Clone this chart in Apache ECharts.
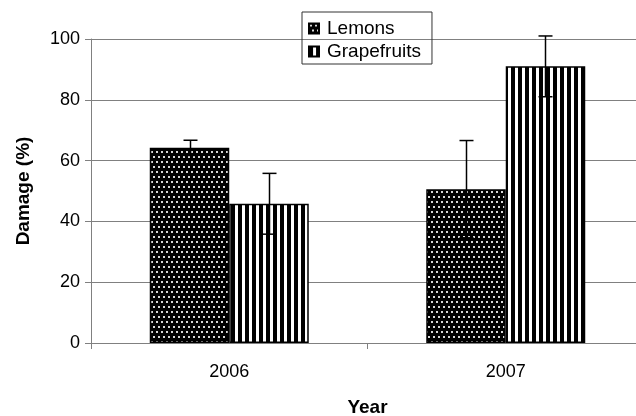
<!DOCTYPE html>
<html>
<head>
<meta charset="utf-8">
<script src="https://cdn.jsdelivr.net/npm/echarts@6/dist/echarts.min.js"></script>
<style>
  html, body { margin: 0; padding: 0; background: #fff; }
  #chart { width: 636px; height: 416px; }
</style>
</head>
<body>
<div id="chart"></div>
<script>
// data
var years = ['2006', '2007']
var lemons = [64.2, 50.6]
var lemonsErr = [2.5, 16]
var grapefruits = [45.8, 91]
var grapefruitsErr = [10, 10]
var yTicks = [0, 20, 40, 60, 80, 100]

// fill patterns, drawn on small canvases
function dotPattern() {
    var c = document.createElement('canvas')
    c.width = 10
    c.height = 10
    var ctx = c.getContext('2d')
    ctx.fillStyle = '#000'
    ctx.fillRect(0, 0, 10, 10)
    ctx.fillStyle = '#d8d8d8'
    ctx.fillRect(1, 1, 2, 2)
    ctx.fillRect(6, 1, 2, 2)
    ctx.fillRect(3, 6, 2, 2)
    ctx.fillRect(8, 6, 2, 2)
    return c
}

function stripePattern() {
    var c = document.createElement('canvas')
    c.width = 7
    c.height = 4
    var ctx = c.getContext('2d')
    ctx.fillStyle = '#fff'
    ctx.fillRect(0, 0, 7, 4)
    ctx.fillStyle = '#000'
    ctx.fillRect(0, 0, 4, 4)
    return c
}

var lemonFill = {image: dotPattern(), repeat: 'repeat'}
var grapeFill = {image: stripePattern(), repeat: 'repeat'}

var BAR_GAP = '42.5%'
var BAR_SHARE = 0.2875 // each bar's share of the category band

function errorSeries(values, errs, side) {
    return {
        type: 'custom',
        name: side < 0 ? 'lemonErr' : 'grapeErr',
        z: 10,
        silent: true,
        data: values.map(function (v, i) { return [i, v - errs[i], v + errs[i]] }),
        renderItem: function (params, api) {
            var band = api.size([1, 0])[0]
            var dx = side * band * BAR_SHARE / 2
            var lo = api.coord([api.value(0), api.value(1)])
            var hi = api.coord([api.value(0), api.value(2)])
            var x = Math.round(lo[0] + dx) + 0.5
            var half = 7
            var style = {stroke: '#000', lineWidth: 1.5}
            return {
                type: 'group',
                children: [
                    {type: 'line', shape: {x1: x, y1: lo[1], x2: x, y2: hi[1]}, style: style},
                    {type: 'line', shape: {x1: x - half, y1: hi[1], x2: x + half, y2: hi[1]}, style: style},
                    {type: 'line', shape: {x1: x - half, y1: lo[1], x2: x + half, y2: lo[1]}, style: style}
                ]
            }
        }
    }
}

var myChart = echarts.init(document.getElementById('chart'))

myChart.setOption({
    animation: false,
    textStyle: {fontFamily: 'Liberation Sans, Arial, sans-serif', color: '#000'},
    // plot runs a little past the right edge of the picture
    grid: {left: 91, right: -8, top: 39, bottom: 73, containLabel: false, outerBoundsMode: 'none'},
    legend: {
        orient: 'vertical',
        left: 302,
        top: 12,
        padding: [7, 11, 3, 6],
        itemGap: 4,
        itemWidth: 10,
        itemHeight: 10,
        borderColor: '#333',
        borderWidth: 1,
        borderRadius: 0,
        icon: 'rect',
        data: ['Lemons', 'Grapefruits'],
        textStyle: {fontSize: 19, color: '#000', padding: [0, 0, 0, 3]}
    },
    xAxis: {
        type: 'category',
        data: years,
        name: 'Year',
        nameLocation: 'middle',
        nameGap: 55,
        nameTextStyle: {fontSize: 19, fontWeight: 'bold', color: '#000'},
        axisLine: {lineStyle: {color: '#808080', width: 1}},
        axisTick: {show: true, length: 6, inside: false, lineStyle: {color: '#808080'}},
        axisLabel: {fontSize: 18, color: '#000', margin: 20},
        splitLine: {show: false}
    },
    yAxis: {
        type: 'value',
        min: 0,
        max: 100,
        interval: 20,
        name: 'Damage (%)',
        nameLocation: 'middle',
        nameGap: 58,
        nameRotate: 90,
        nameTextStyle: {fontSize: 19, fontWeight: 'bold', color: '#000'},
        axisLine: {show: true, lineStyle: {color: '#808080', width: 1}},
        axisTick: {show: true, length: 6, lineStyle: {color: '#808080'}},
        axisLabel: {
            fontSize: 18,
            color: '#000',
            margin: 11,
            formatter: function (v) { return yTicks.indexOf(v) >= 0 ? String(v) : '' }
        },
        splitLine: {show: true, lineStyle: {color: '#808080', width: 1}}
    },
    series: [
        {
            name: 'Lemons',
            type: 'bar',
            data: lemons,
            barGap: '0%',
            barCategoryGap: BAR_GAP,
            itemStyle: {color: lemonFill, borderColor: '#000', borderWidth: 1.5}
        },
        {
            name: 'Grapefruits',
            type: 'bar',
            data: grapefruits,
            barGap: '0%',
            barCategoryGap: BAR_GAP,
            itemStyle: {color: grapeFill, borderColor: '#000', borderWidth: 1.5}
        },
        errorSeries(lemons, lemonsErr, -1),
        errorSeries(grapefruits, grapefruitsErr, 1)
    ]
})
</script>
</body>
</html>
